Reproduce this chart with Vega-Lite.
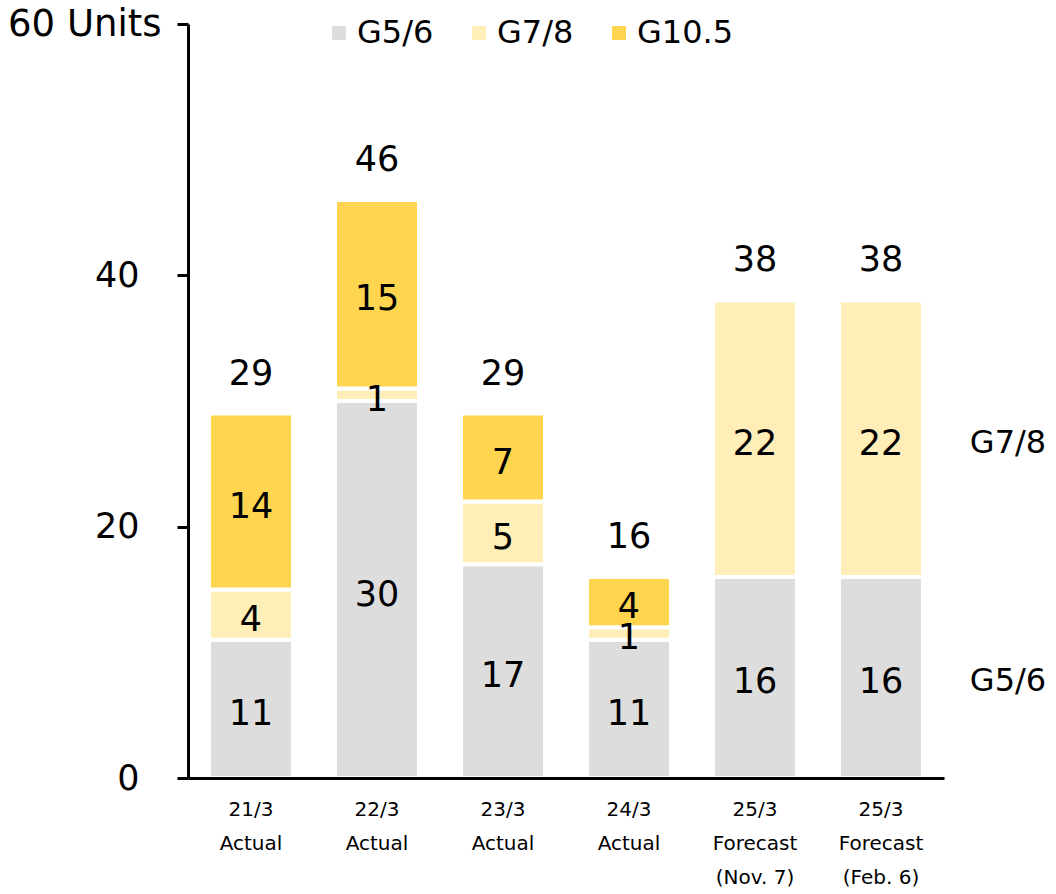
{
  "$schema": "https://vega.github.io/schema/vega-lite/v6.json",
  "width": 756,
  "height": 754,
  "autosize": {"type": "none"},
  "padding": {"left": 188, "top": 24, "right": 112, "bottom": 116},
  "config": {
    "font": "DejaVu Sans",
    "view": {"stroke": null},
    "text": {"color": "black"}
  },
  "data": {
    "values": [
      {"period": "21/3\nActual", "grade": "G5/6", "units": 11},
      {"period": "21/3\nActual", "grade": "G7/8", "units": 4},
      {"period": "21/3\nActual", "grade": "G10.5", "units": 14},
      {"period": "22/3\nActual", "grade": "G5/6", "units": 30},
      {"period": "22/3\nActual", "grade": "G7/8", "units": 1},
      {"period": "22/3\nActual", "grade": "G10.5", "units": 15},
      {"period": "23/3\nActual", "grade": "G5/6", "units": 17},
      {"period": "23/3\nActual", "grade": "G7/8", "units": 5},
      {"period": "23/3\nActual", "grade": "G10.5", "units": 7},
      {"period": "24/3\nActual", "grade": "G5/6", "units": 11},
      {"period": "24/3\nActual", "grade": "G7/8", "units": 1},
      {"period": "24/3\nActual", "grade": "G10.5", "units": 4},
      {"period": "25/3\nForecast\n(Nov. 7)", "grade": "G5/6", "units": 16},
      {"period": "25/3\nForecast\n(Nov. 7)", "grade": "G7/8", "units": 22},
      {"period": "25/3\nForecast\n(Feb. 6)", "grade": "G5/6", "units": 16},
      {"period": "25/3\nForecast\n(Feb. 6)", "grade": "G7/8", "units": 22}
    ]
  },
  "transform": [
    {"calculate": "indexof(['G5/6', 'G7/8', 'G10.5'], datum.grade)", "as": "stackOrder"},
    {
      "stack": "units",
      "groupby": ["period"],
      "sort": [{"field": "stackOrder", "order": "ascending"}],
      "as": ["base", "top"]
    },
    {"calculate": "(datum.base + datum.top) / 2", "as": "mid"}
  ],
  "layer": [
    {
      "mark": {"type": "bar", "stroke": "white", "strokeWidth": 4},
      "encoding": {
        "x": {
          "field": "period",
          "type": "nominal",
          "title": null,
          "scale": {
            "domain": [
              "21/3\nActual",
              "22/3\nActual",
              "23/3\nActual",
              "24/3\nActual",
              "25/3\nForecast\n(Nov. 7)",
              "25/3\nForecast\n(Feb. 6)"
            ],
            "paddingInner": 0.3333,
            "paddingOuter": 0.1667
          },
          "axis": {
            "labelExpr": "split(datum.label, '\\n')",
            "labelAngle": 0,
            "labelFontSize": 20,
            "labelLineHeight": 34,
            "labelColor": "black",
            "labelPadding": 21,
            "ticks": false,
            "domainColor": "black",
            "domainWidth": 3,
            "zindex": 1
          }
        },
        "y": {
          "field": "base",
          "type": "quantitative",
          "title": null,
          "scale": {"domain": [0, 60], "nice": false},
          "axis": {
            "values": [0, 20, 40, 60],
            "labelExpr": "datum.value == 60 ? '60 Units' : datum.label",
            "labelFontSize": {"condition": {"test": "datum.value == 60", "value": 37}, "value": 35},
            "labelColor": "black",
            "labelPadding": {"condition": {"test": "datum.value == 60", "value": 16}, "value": 38},
            "grid": false,
            "domainColor": "black",
            "domainWidth": 3,
            "tickColor": "black",
            "tickWidth": 3,
            "tickSize": 11,
            "zindex": 1
          }
        },
        "y2": {"field": "top"},
        "color": {
          "field": "grade",
          "type": "nominal",
          "scale": {
            "domain": ["G5/6", "G7/8", "G10.5"],
            "range": ["#DDDDDD", "#FFEEB8", "#FFD54F"]
          },
          "legend": {
            "title": null,
            "orient": "none",
            "direction": "horizontal",
            "legendX": 135,
            "legendY": -7,
            "symbolType": "square",
            "symbolSize": 196,
            "symbolStrokeWidth": 0,
            "symbolStrokeColor": "transparent",
            "labelFontSize": 32,
            "labelColor": "black",
            "labelOffset": 2,
            "columnPadding": 29
          }
        }
      }
    },
    {
      "mark": {"type": "text", "fontSize": 35, "baseline": "middle", "dy": 5},
      "encoding": {
        "x": {"field": "period", "type": "nominal", "title": null},
        "y": {"field": "mid", "type": "quantitative", "title": null},
        "text": {"field": "units", "type": "quantitative"}
      }
    },
    {
      "transform": [
        {"aggregate": [{"op": "sum", "field": "units", "as": "total"}], "groupby": ["period"]}
      ],
      "mark": {"type": "text", "fontSize": 35, "baseline": "middle", "dy": -40},
      "encoding": {
        "x": {"field": "period", "type": "nominal", "title": null},
        "y": {"field": "total", "type": "quantitative", "title": null},
        "text": {"field": "total", "type": "quantitative"}
      }
    },
    {
      "transform": [{"filter": "indexof(datum.period, 'Feb. 6') >= 0"}],
      "mark": {"type": "text", "fontSize": 32, "baseline": "middle", "align": "center", "dx": 127, "dy": 4},
      "encoding": {
        "x": {"field": "period", "type": "nominal", "title": null},
        "y": {"field": "mid", "type": "quantitative", "title": null},
        "text": {"field": "grade", "type": "nominal"}
      }
    }
  ]
}
